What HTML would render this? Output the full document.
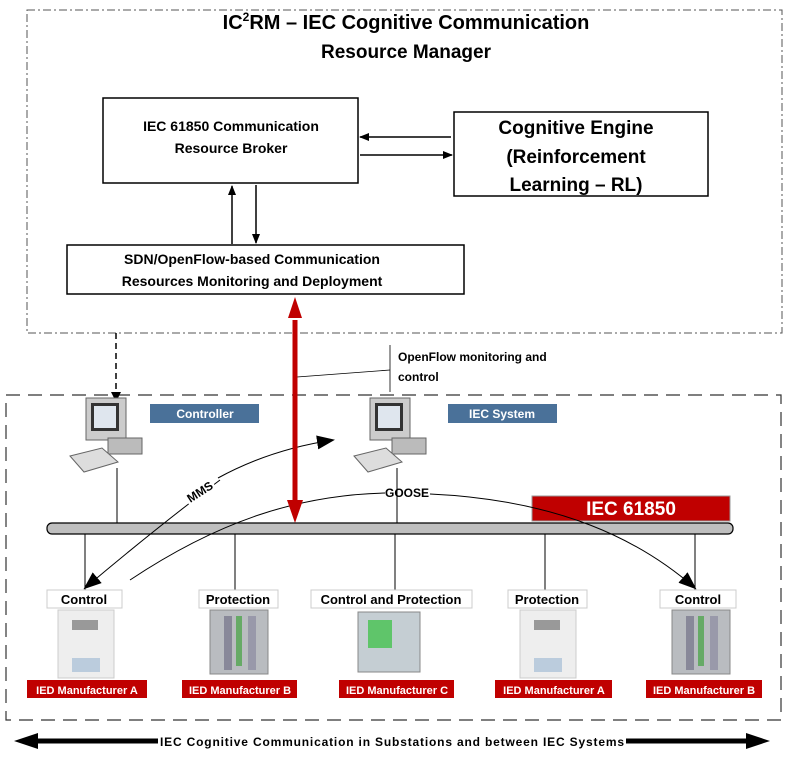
<!DOCTYPE html>
<html><head><meta charset="utf-8"><style>
body{margin:0;background:#fff;}
svg text{font-family:"Liberation Sans",sans-serif;font-weight:bold;}
</style></head><body>
<svg width="788" height="760" viewBox="0 0 788 760" xmlns="http://www.w3.org/2000/svg">
<defs>
<marker id="ah" markerWidth="10" markerHeight="8" refX="9" refY="4" orient="auto" markerUnits="userSpaceOnUse"><path d="M0,0L10,4L0,8z" fill="#000"/></marker>
<marker id="ahb" markerWidth="18" markerHeight="14" refX="16" refY="7" orient="auto" markerUnits="userSpaceOnUse"><path d="M0,0L18,7L0,14z" fill="#000"/></marker>
<g id="pc">
<rect x="18" y="0" width="40" height="42" fill="#ccc" stroke="#666"/>
<rect x="23" y="5" width="28" height="28" fill="#333"/>
<rect x="26" y="8" width="22" height="22" fill="#dfe6ee"/>
<rect x="40" y="40" width="34" height="16" fill="#bbb" stroke="#666"/>
<path d="M2,58L34,50L50,64L16,74z" fill="#ddd" stroke="#666"/>
</g>
<g id="ieda"><rect x="0" y="0" width="56" height="68" fill="#eee" stroke="#ccc"/><rect x="14" y="10" width="26" height="10" fill="#999"/><rect x="14" y="48" width="28" height="14" fill="#bcd"/></g>
<g id="iedb"><rect x="0" y="0" width="58" height="64" fill="#b9bcc0" stroke="#888"/><rect x="14" y="6" width="8" height="54" fill="#889"/><rect x="26" y="6" width="6" height="50" fill="#6a6"/><rect x="38" y="6" width="8" height="54" fill="#99a"/></g>
</defs>
<rect x="27" y="10" width="755" height="323" fill="none" stroke="#555" stroke-dasharray="8,3,2,3"/>
<text x="406" y="29" font-size="20" text-anchor="middle">IC<tspan font-size="12" dy="-8">2</tspan><tspan dy="8">RM – IEC Cognitive Communication</tspan></text>
<text x="406" y="58" font-size="19" text-anchor="middle">Resource Manager</text>
<rect x="103" y="98" width="255" height="85" fill="#fff" stroke="#000" stroke-width="1.5"/>
<text x="231" y="131" font-size="14" text-anchor="middle">IEC 61850 Communication</text>
<text x="231" y="153" font-size="14" text-anchor="middle">Resource Broker</text>
<rect x="454" y="112" width="254" height="84" fill="#fff" stroke="#000" stroke-width="1.5"/>
<text x="576" y="134" font-size="19" text-anchor="middle">Cognitive Engine</text>
<text x="576" y="163" font-size="19" text-anchor="middle">(Reinforcement</text>
<text x="576" y="191" font-size="19" text-anchor="middle">Learning – RL)</text>
<line x1="451" y1="137" x2="360" y2="137" stroke="#000" stroke-width="1.5" marker-end="url(#ah)"/>
<line x1="360" y1="155" x2="452" y2="155" stroke="#000" stroke-width="1.5" marker-end="url(#ah)"/>
<line x1="232" y1="244" x2="232" y2="186" stroke="#000" stroke-width="1.5" marker-end="url(#ah)"/>
<line x1="256" y1="185" x2="256" y2="243" stroke="#000" stroke-width="1.5" marker-end="url(#ah)"/>
<rect x="67" y="245" width="397" height="49" fill="#fff" stroke="#000" stroke-width="1.5"/>
<text x="252" y="264" font-size="14" text-anchor="middle">SDN/OpenFlow-based Communication</text>
<text x="252" y="286" font-size="14" text-anchor="middle">Resources Monitoring and Deployment</text>
<line x1="297" y1="377" x2="390" y2="370" stroke="#000" stroke-width="0.8"/>
<line x1="390" y1="345" x2="390" y2="392" stroke="#000" stroke-width="0.8"/>
<text x="398" y="361" font-size="12">OpenFlow monitoring and</text>
<text x="398" y="381" font-size="12">control</text>
<rect x="6" y="395" width="775" height="325" fill="none" stroke="#333" stroke-width="1.2" stroke-dasharray="14,8"/>
<line x1="116" y1="333" x2="116" y2="398" stroke="#000" stroke-width="1.5" stroke-dasharray="6,4"/>
<path d="M111,392L121,392L116,402z" fill="#000"/>
<use href="#pc" x="68" y="398"/>
<use href="#pc" x="352" y="398"/>
<rect x="150" y="404" width="109" height="19" fill="#4a7199"/>
<text x="205" y="418" font-size="12" fill="#fff" text-anchor="middle">Controller</text>
<rect x="448" y="404" width="109" height="19" fill="#4a7199"/>
<text x="502" y="418" font-size="12" fill="#fff" text-anchor="middle">IEC System</text>
<line x1="117" y1="468" x2="117" y2="523" stroke="#000"/>
<line x1="397" y1="468" x2="397" y2="523" stroke="#000"/>
<rect x="47" y="523" width="686" height="11" rx="5" fill="#bfbfbf" stroke="#000" stroke-width="1.2"/>
<g stroke="#000"><line x1="85" y1="534" x2="85" y2="590"/><line x1="235" y1="534" x2="235" y2="590"/><line x1="395" y1="534" x2="395" y2="590"/><line x1="545" y1="534" x2="545" y2="590"/><line x1="695" y1="534" x2="695" y2="590"/></g>
<rect x="532" y="496" width="198" height="25" fill="#c00000" stroke="#999"/>
<text x="631" y="515" font-size="19" fill="#fff" text-anchor="middle">IEC 61850</text>
<path d="M130,580 C220,520 300,495 385,493" fill="none" stroke="#000" stroke-width="1"/>
<path d="M430,494 C560,500 640,540 695,588" fill="none" stroke="#000" stroke-width="1" marker-end="url(#ahb)"/>
<text x="407" y="497" font-size="12" text-anchor="middle">GOOSE</text>
<path d="M220,480 C180,510 130,550 85,588" fill="none" stroke="#000" stroke-width="1" marker-end="url(#ahb)"/>
<path d="M218,478 C260,455 300,445 333,440" fill="none" stroke="#000" stroke-width="1" marker-end="url(#ahb)"/>
<g transform="rotate(-33 200 492)"><rect x="184" y="484" width="32" height="14" fill="#fff"/><text x="200" y="496" font-size="12" text-anchor="middle">MMS</text></g>
<line x1="295" y1="320" x2="295" y2="500" stroke="#c00000" stroke-width="5"/>
<path d="M288,318L295,297L302,318z" fill="#c00000"/>
<path d="M287,500L295,523L303,500z" fill="#c00000"/>
<g font-size="13" text-anchor="middle">
<rect x="47" y="590" width="75" height="18" fill="#fff" stroke="#ccc"/><text x="84" y="604">Control</text>
<rect x="199" y="590" width="79" height="18" fill="#fff" stroke="#ccc"/><text x="238" y="604">Protection</text>
<rect x="311" y="590" width="161" height="18" fill="#fff" stroke="#ccc"/><text x="391" y="604">Control and Protection</text>
<rect x="508" y="590" width="79" height="18" fill="#fff" stroke="#ccc"/><text x="547" y="604">Protection</text>
<rect x="660" y="590" width="76" height="18" fill="#fff" stroke="#ccc"/><text x="698" y="604">Control</text>
</g>
<use href="#ieda" x="58" y="610"/>
<use href="#iedb" x="210" y="610"/>
<g><rect x="358" y="612" width="62" height="60" fill="#c5ced3" stroke="#888"/><rect x="368" y="620" width="24" height="28" fill="#5fc56a"/></g>
<use href="#ieda" x="520" y="610"/>
<use href="#iedb" x="672" y="610"/>
<g font-size="11" fill="#fff" text-anchor="middle">
<rect x="27" y="680" width="120" height="18" fill="#c00000"/><text x="87" y="694">IED Manufacturer A</text>
<rect x="182" y="680" width="115" height="18" fill="#c00000"/><text x="240" y="694">IED Manufacturer B</text>
<rect x="339" y="680" width="115" height="18" fill="#c00000"/><text x="397" y="694">IED Manufacturer C</text>
<rect x="495" y="680" width="117" height="18" fill="#c00000"/><text x="554" y="694">IED Manufacturer A</text>
<rect x="646" y="680" width="116" height="18" fill="#c00000"/><text x="704" y="694">IED Manufacturer B</text>
</g>
<line x1="30" y1="741" x2="755" y2="741" stroke="#000" stroke-width="5"/>
<path d="M14,741L38,733L38,749z" fill="#000"/>
<path d="M770,741L746,733L746,749z" fill="#000"/>
<rect x="158" y="734" width="468" height="15" fill="#fff"/>
<text x="392" y="746" font-size="12" text-anchor="middle" textLength="464">IEC Cognitive Communication in Substations and between IEC Systems</text>
</svg>
</body></html>
